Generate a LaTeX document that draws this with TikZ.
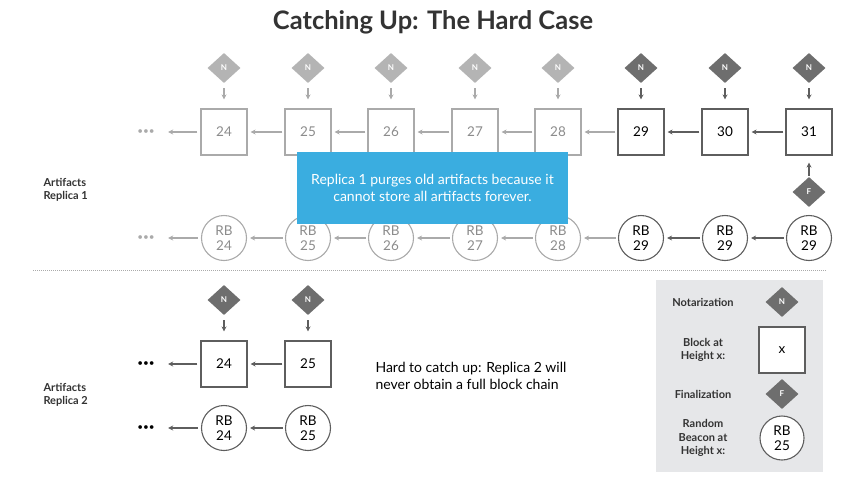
\documentclass[tikz,border=0pt]{standalone}
\usepackage{fontspec}
\setmainfont{Lato}
\usetikzlibrary{shapes.geometric,arrows.meta}
\definecolor{lgray}{HTML}{AAAAAA}
\definecolor{ltext}{HTML}{8C8C8C}
\definecolor{dgray}{HTML}{5E5E5E}
\definecolor{dfill}{HTML}{6E6E6E}
\definecolor{lfill}{HTML}{B4B4B4}
\definecolor{bluebox}{HTML}{3AADE0}
\definecolor{legbg}{HTML}{E6E7E9}
\definecolor{titlec}{HTML}{333333}
\tikzset{
  x=1pt,y=-1pt,
  blk/.style={draw, minimum size=46pt, inner sep=0pt, line width=1.1pt, font=\fontsize{13.5}{15}\selectfont},
  lblk/.style={blk, draw=lgray, text=ltext},
  dblk/.style={blk, draw=dgray, text=black, fill=white},
  rbc/.style={circle, draw, minimum size=45pt, inner sep=0pt, line width=1.1pt, align=center, font=\fontsize{13.5}{14.5}\selectfont},
  lrbc/.style={rbc, draw=lgray, text=ltext},
  drbc/.style={rbc, draw=dgray, text=black, fill=white},
  dia/.style={diamond, minimum width=33pt, minimum height=30pt, inner sep=0pt, text=white, font=\fontsize{8}{9}\selectfont\bfseries},
  ldia/.style={dia, fill=lfill},
  ddia/.style={dia, fill=dfill},
  arr/.style={line width=1.1pt, -{Stealth[length=5pt,width=5pt]}},
  larr/.style={arr, draw=lgray},
  darr/.style={arr, draw=dgray},
  varr/.style={shorten <=5pt, shorten >=9pt},
  harr/.style={shorten <=2pt, shorten >=3pt},
  dots/.style={inner sep=0pt, minimum width=18pt, font=\fontsize{10}{10}\selectfont},
  side/.style={align=left, anchor=west, font=\fontsize{11}{13}\selectfont\bfseries, text=titlec},
}
\begin{document}
\begin{tikzpicture}
\useasboundingbox (0,0) rectangle (868,485);
\fill[white] (0,0) rectangle (868,485);
% title
\node[font=\fontsize{25.5}{28}\selectfont\bfseries, text=titlec] (title) at (433,22) {Catching Up: The Hard Case};

% ---------- Replica 1 ----------
\node[side] (art1) at (40,190) {Artifacts\\Replica 1};
\node[dots, text=lgray] (dA) at (146,132) {•••};
\node[dots, text=lgray] (dB) at (146,238) {•••};
\foreach \h/\x in {24/224,25/308,26/391,27/475,28/558}{
  \node[ldia] (n\h) at (\x,68) {N};
  \node[lblk] (b\h) at (\x,132) {\h};
  \node[lrbc] (r\h) at (\x,238) {RB\\\h};
  \draw[larr,varr] (n\h.south) -- (b\h.north);
}
\foreach \h/\x in {29/641,30/725,31/809}{
  \node[ddia] (n\h) at (\x,68) {N};
  \node[dblk] (b\h) at (\x,132) {\h};
  \draw[darr,varr] (n\h.south) -- (b\h.north);
}
\node[drbc] (r29) at (641,238) {RB\\29};
\node[drbc] (r30) at (725,238) {RB\\29};
\node[drbc] (r31) at (809,238) {RB\\29};
\node[ddia] (f31) at (809,192) {F};
\draw[darr, shorten <=1pt, shorten >=7pt] (f31.north) -- (b31.south);

\draw[larr, shorten <=3pt, shorten >=13pt] (b24.west) -- (dA.east);
\draw[larr, shorten <=3pt, shorten >=13pt] (r24.west) -- (dB.east);
\foreach \a/\b in {25/24,26/25,27/26,28/27,29/28}{
  \draw[larr,harr] (b\a.west) -- (b\b.east);
  \draw[larr,harr] (r\a.west) -- (r\b.east);
}
\foreach \a/\b in {30/29,31/30}{
  \draw[darr,harr] (b\a.west) -- (b\b.east);
  \draw[darr,harr] (r\a.west) -- (r\b.east);
}

% blue note
\node[fill=bluebox, minimum width=271pt, minimum height=72pt, text=white, align=center, font=\fontsize{14}{17.5}\selectfont] (note) at (432.5,188) {Replica 1 purges old artifacts because it\\cannot store all artifacts forever.};

% separator
\coordinate (sepL) at (33,270);
\coordinate (sepR) at (826,270);
\draw[lgray, line width=0.8pt, dash pattern=on 1pt off 1pt] (sepL) -- (sepR);

% ---------- Replica 2 ----------
\node[side] (art2) at (40,395) {Artifacts\\Replica 2};
\node[dots, text=black] (dC) at (146,364) {•••};
\node[dots, text=black] (dD) at (146,428) {•••};
\foreach \h/\x in {24/224,25/308}{
  \node[ddia] (m\h) at (\x,300) {N};
  \node[dblk] (c\h) at (\x,364) {\h};
  \node[drbc] (s\h) at (\x,428) {RB\\\h};
  \draw[darr,varr] (m\h.south) -- (c\h.north);
}
\draw[darr,harr] (c25.west) -- (c24.east);
\draw[darr,harr] (s25.west) -- (s24.east);
\draw[darr, shorten <=3pt, shorten >=13pt] (c24.west) -- (dC.east);
\draw[darr, shorten <=3pt, shorten >=13pt] (s24.west) -- (dD.east);

\node[anchor=west, align=left, font=\fontsize{14}{17.5}\selectfont, text=black] (hard) at (372,376) {Hard to catch up: Replica 2 will\\never obtain a full block chain};

% legend
\node[fill=legbg, minimum width=167pt, minimum height=192pt, inner sep=0pt] (leg) at (739.5,376) {};
\tikzset{legt/.style={align=center, font=\fontsize{11}{13.5}\selectfont\bfseries, text=titlec}}
\node[legt] (lt1) at (703,302) {Notarization};
\node[ddia] (ld1) at (782,302) {N};
\node[legt] (lt2) at (703,350) {Block at\\Height x:};
\node[dblk, draw=dgray] (lb2) at (782,350) {x};
\node[legt] (lt3) at (703,394) {Finalization};
\node[ddia] (ld3) at (782,394) {F};
\node[legt] (lt4) at (703,438) {Random\\Beacon at\\Height x:};
\node[drbc, minimum size=44pt] (lr4) at (782,438) {RB\\25};
\end{tikzpicture}
\end{document}
